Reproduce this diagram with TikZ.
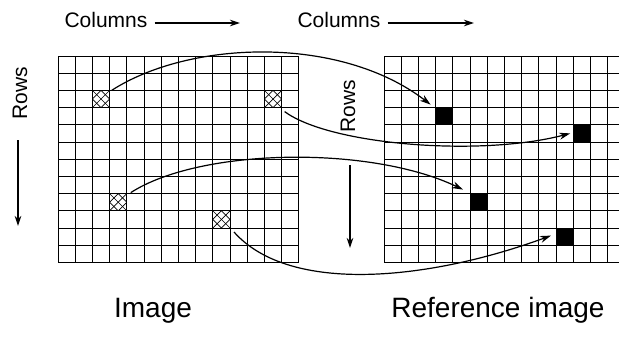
\documentclass[tikz,border=0pt]{standalone}
\usepackage{fontspec}
\setmainfont{Liberation Sans}
\usetikzlibrary{arrows.meta,calc}
\begin{document}
\begin{tikzpicture}[x=1pt,y=-1pt,
  gridline/.style={line width=0.9pt},
  cellbase/.style={minimum size=17.2pt,inner sep=0pt,outer sep=0pt},
  hatchcell/.style={cellbase,fill=white,
    path picture={\foreach \d in {-8.6,0,8.6}{
      \draw[line width=0.7pt] ([xshift=\d pt]path picture bounding box.center) ++(-12,-12) -- ++(24,24);
      \draw[line width=0.7pt] ([xshift=\d pt]path picture bounding box.center) ++(-12,12) -- ++(24,-24);}}},
  solidcell/.style={cellbase,fill=black},
  mapping/.style={line width=1.2pt,-{Stealth[length=11pt,width=7pt]}},
  axisarrow/.style={line width=1.1pt,-{Stealth[length=10pt,width=6.5pt]}},
  axislabel/.style={font=\fontsize{21}{25}\selectfont,inner sep=0pt},
  caption/.style={font=\fontsize{28}{33}\selectfont,inner sep=0pt}]

\useasboundingbox (0,0) rectangle (619,338);

% marked pixels of the image
\node[hatchcell] (h1) at (101.0,99.0) {};
\node[hatchcell] (h2) at (273.0,99.0) {};
\node[hatchcell] (h3) at (118.2,202.2) {};
\node[hatchcell] (h4) at (221.4,219.4) {};

% their positions in the reference image
\node[solidcell] (b1) at (444.2,116.2) {};
\node[solidcell] (b2) at (581.8,133.4) {};
\node[solidcell] (b3) at (478.6,202.2) {};
\node[solidcell] (b4) at (564.6,236.6) {};

% left grid: 14 x 12 cells
\foreach \i in {0,...,14}
  \draw[gridline] ({58+17.2*\i},56) -- ({58+17.2*\i},262.4);
\foreach \j in {0,...,12}
  \draw[gridline] (58,{56+17.2*\j}) -- (298.8,{56+17.2*\j});

% right grid, running off the right edge
\foreach \i in {0,...,13}
  \draw[gridline] ({384+17.2*\i},56) -- ({384+17.2*\i},262.4);
\foreach \j in {0,...,12}
  \draw[gridline] (384,{56+17.2*\j}) -- (619,{56+17.2*\j});

% mappings between the two images
\draw[mapping] ($(h1.north east)+(2,0)$) .. controls (190,40) and (340,35) .. ($(b1.north west)+(-5,-3)$);
\draw[mapping] ($(h2.south east)+(3,4)$) .. controls (330,145) and (480,157) .. ($(b2.west)+(-3,0)$);
\draw[mapping] ($(h3.north east)+(4,-1)$) .. controls (200,148) and (370,145) .. ($(b3.north west)+(-7,-4)$);
\draw[mapping] ($(h4.south east)+(4,4)$) .. controls (290,295) and (430,280) .. ($(b4.west)+(-5,-1)$);

% axis labels
\node[axislabel] (colL) at (106,20) {Columns};
\coordinate (colLend) at (240,23);
\draw[axisarrow] ($(colL.east)+(7,3)$) -- (colLend);

\node[axislabel] (colR) at (339,20) {Columns};
\coordinate (colRend) at (474,23);
\draw[axisarrow] ($(colR.east)+(7,3)$) -- (colRend);

\node[axislabel,rotate=90] (rowL) at (20,93) {Rows};
\coordinate (rowLstart) at (18,140);
\coordinate (rowLend) at (18,226);
\draw[axisarrow] (rowLstart) -- (rowLend);

\node[axislabel,rotate=90] (rowR) at (348,106) {Rows};
\coordinate (rowRstart) at (350,165);
\coordinate (rowRend) at (350,248);
\draw[axisarrow] (rowRstart) -- (rowRend);

% captions
\node[caption,anchor=base] (capL) at (153,317) {Image};
\node[caption,anchor=base] (capR) at (498,317) {Reference image};
\end{tikzpicture}
\end{document}
